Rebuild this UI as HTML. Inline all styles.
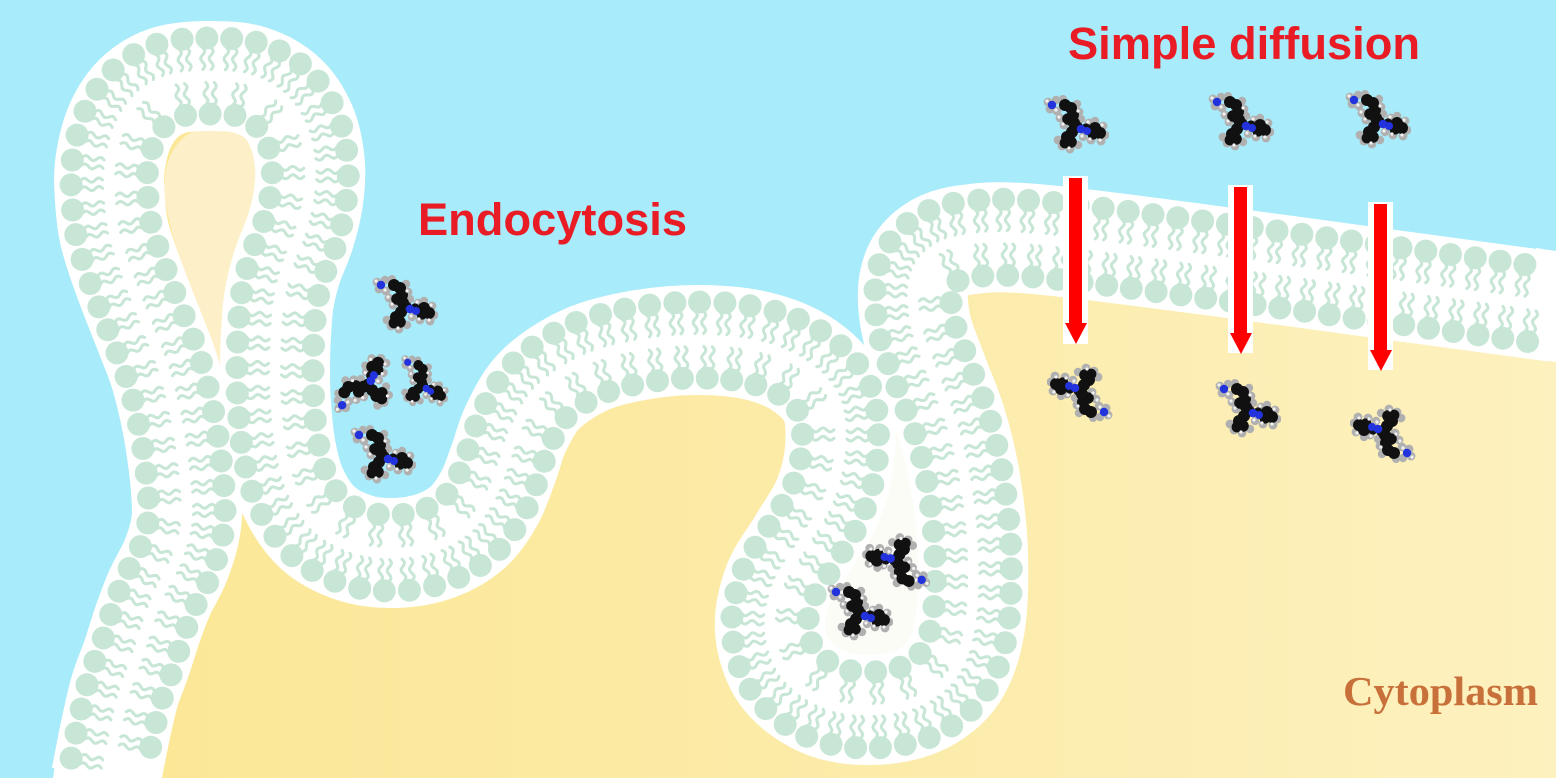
<!DOCTYPE html>
<html>
<head>
<meta charset="utf-8">
<style>
html,body{margin:0;padding:0;background:#a8ebfa;overflow:hidden;width:1556px;height:778px;}
svg{display:block;overflow:hidden;}
</style>
</head>
<body>
<svg id="s" xmlns="http://www.w3.org/2000/svg" width="1556" height="778" viewBox="0 0 1556 778">
<defs>
  <linearGradient id="yg" x1="150" y1="0" x2="1556" y2="0" gradientUnits="userSpaceOnUse">
    <stop offset="0" stop-color="#fbe796"/>
    <stop offset="0.55" stop-color="#fcecab"/>
    <stop offset="1" stop-color="#fdf1bf"/>
  </linearGradient>
  <symbol id="mol" viewBox="0 0 66 60">
    <g fill="#b0b0b0">
      <circle cx="5" cy="7" r="4.4"/><circle cx="7" cy="14" r="4.4"/><circle cx="13" cy="5" r="4.2"/>
      <circle cx="14" cy="16" r="4.4"/><circle cx="20" cy="4" r="4"/><circle cx="34" cy="9" r="4.2"/>
      <circle cx="36" cy="17" r="4.4"/><circle cx="17" cy="23" r="4.4"/><circle cx="21" cy="30" r="4.4"/>
      <circle cx="38" cy="24" r="4.2"/><circle cx="46" cy="28" r="4.4"/><circle cx="52" cy="26" r="4.2"/>
      <circle cx="60" cy="31" r="4.4"/><circle cx="62" cy="40" r="4.4"/><circle cx="58" cy="46" r="4.4"/>
      <circle cx="48" cy="45" r="4.4"/><circle cx="40" cy="42" r="4.2"/><circle cx="19" cy="51" r="4.4"/>
      <circle cx="27" cy="54" r="4.4"/><circle cx="35" cy="50" r="4.2"/><circle cx="15" cy="45" r="4.4"/>
    </g>
    <g fill="#111">
      <circle cx="22" cy="10" r="6"/><circle cx="28" cy="13" r="6"/><circle cx="30" cy="20" r="6"/>
      <circle cx="25" cy="24" r="5.8"/><circle cx="31" cy="28" r="6"/><circle cx="34" cy="32" r="5.8"/>
      <circle cx="29" cy="37" r="6"/><circle cx="24" cy="42" r="6"/><circle cx="28" cy="47" r="5.8"/>
      <circle cx="52" cy="33" r="6"/><circle cx="57" cy="38" r="6"/><circle cx="50" cy="39" r="5.6"/>
      <circle cx="22" cy="48" r="5.4"/><circle cx="43" cy="33" r="4.6"/>
    </g>
    <g fill="#2233dd">
      <circle cx="9" cy="10" r="4.2"/><circle cx="38" cy="34" r="4.3"/><circle cx="44" cy="36" r="4"/>
    </g>
    <g fill="#f2f2f2">
      <circle cx="4" cy="6" r="1.6"/><circle cx="13" cy="15" r="1.6"/><circle cx="35" cy="16" r="1.6"/>
      <circle cx="20" cy="29" r="1.6"/><circle cx="45" cy="27" r="1.6"/><circle cx="59" cy="30" r="1.6"/>
      <circle cx="57" cy="45" r="1.6"/><circle cx="26" cy="53" r="1.6"/><circle cx="39" cy="41" r="1.6"/>
      <circle cx="16" cy="22" r="1.6"/><circle cx="47" cy="44" r="1.6"/>
    </g>
  </symbol>
</defs>

<rect x="0" y="0" width="1556" height="778" fill="#a8ebfa"/>

<path id="cyto" fill="url(#yg)" d="M106,778 L110,757 L117,723 L125,690 L137,657 L148,623 L160,592 L176,560 L186,525 L186,490 L180,440 L172,400 L163,367 L150,333 L137,300 L124,265 L114,232 L110,200 L110,165 L120,126 L140,97 L170,80 L210,76 L250,80 L282,98 L302,128 L310,165 L308,200 L300,233 L287,267 L279,300 L276,335 L275,370 L276,405 L281,450 L293,492 L318,528 L355,548 L395,553 L435,546 L468,527 L490,497 L504,462 L516,428 L540,390 L585,360 L640,345 L700,340 L758,346 L805,366 L835,400 L840,450 L828,500 L802,545 L778,585 L770,630 L785,673 L823,702 L870,710 L918,701 L953,673 L970,625 L973,555 L966,485 L952,425 L932,372 L916,325 L914,282 L930,254 L965,240 L1035,239 L1200,259 L1400,286 L1556,307 L1556,778 L106,778 Z"/>

<path id="tear" fill="#fdf0c8" d="M220,370 C202,320 176,260 166,205 C158,155 183,127 213,127 C245,127 262,152 258,192 C254,240 233,300 220,370 Z"/>

<path id="lumen" fill="#fcfcf7" d="M858,345 C880,360 905,390 918,440 C930,500 928,600 910,650 C890,672 840,670 822,645 C808,600 818,520 838,460 C848,420 850,380 858,345 Z"/>

<path id="band" fill="none" stroke="#ffffff" stroke-width="110" stroke-linejoin="round" stroke-linecap="butt" d="M106,778 L110,757 L117,723 L125,690 L137,657 L148,623 L160,592 L176,560 L186,525 L186,490 L180,440 L172,400 L163,367 L150,333 L137,300 L124,265 L114,232 L110,200 L110,165 L120,126 L140,97 L170,80 L210,76 L250,80 L282,98 L302,128 L310,165 L308,200 L300,233 L287,267 L279,300 L276,335 L275,370 L276,405 L281,450 L293,492 L318,528 L355,548 L395,553 L435,546 L468,527 L490,497 L504,462 L516,428 L540,390 L585,360 L640,345 L700,340 L758,346 L805,366 L835,400 L840,450 L828,500 L802,545 L778,585 L770,630 L785,673 L823,702 L870,710 L918,701 L953,673 L970,625 L973,555 L966,485 L952,425 L932,372 L916,325 L914,282 L930,254 L965,240 L1035,239 L1200,259 L1400,286 L1556,307"/>
<polygon points="56,756 164,756 162,778 53,778" fill="#ffffff"/>
<polygon points="1536,248 1556,251 1556,362 1536,359" fill="#ffffff"/>

<g id="tails" fill="none" stroke="#c7e6d5" stroke-width="3" stroke-linecap="round" stroke-linejoin="round"></g>
<g id="heads" fill="#c7e6d5"></g>

<!-- molecules: endocytosis -->
<use href="#mol" width="66" height="60" transform="translate(405,305) rotate(0) translate(-33,-30)"/>
<use href="#mol" width="66" height="60" transform="translate(366,385) rotate(-80) translate(-33,-30)"/>
<use href="#mol" width="66" height="60" transform="translate(423,384) rotate(15) scale(0.85) translate(-33,-30)"/>
<use href="#mol" width="66" height="60" transform="translate(383,455) rotate(0) translate(-33,-30)"/>
<!-- molecules: vesicle -->
<use href="#mol" width="66" height="60" transform="translate(896,562) rotate(175) translate(-33,-30)"/>
<use href="#mol" width="66" height="60" transform="translate(860,612) rotate(0) translate(-33,-30)"/>
<!-- molecules: diffusion top -->
<use href="#mol" width="66" height="60" transform="translate(1076,125) translate(-33,-30)"/>
<use href="#mol" width="66" height="60" transform="translate(1241,122) translate(-33,-30)"/>
<use href="#mol" width="66" height="60" transform="translate(1378,120) translate(-33,-30)"/>
<!-- molecules: diffusion bottom -->
<use href="#mol" width="66" height="60" transform="translate(1080,392) rotate(180) translate(-33,-30)"/>
<use href="#mol" width="66" height="60" transform="translate(1248,409) rotate(0) translate(-33,-30)"/>
<use href="#mol" width="66" height="60" transform="translate(1383,433) rotate(180) translate(-33,-30)"/>

<!-- arrows -->
<rect x="1063" y="176" width="25" height="168" fill="#ffffff"/>
<rect x="1069" y="178" width="13" height="146" fill="#ff0000"/>
<polygon points="1065,323 1087,323 1076,344" fill="#ff0000"/>

<rect x="1228" y="185" width="25" height="168" fill="#ffffff"/>
<rect x="1234" y="187" width="13" height="147" fill="#ff0000"/>
<polygon points="1230,333 1252,333 1241,354" fill="#ff0000"/>

<rect x="1368" y="202" width="25" height="168" fill="#ffffff"/>
<rect x="1374" y="204" width="13" height="147" fill="#ff0000"/>
<polygon points="1370,350 1392,350 1381,371" fill="#ff0000"/>

<!-- labels -->
<text x="418" y="235" font-family="'Liberation Sans', Arial, sans-serif" font-weight="bold" font-size="45" fill="#e91c26" textLength="269" lengthAdjust="spacingAndGlyphs">Endocytosis</text>
<text x="1068" y="59" font-family="'Liberation Sans', Arial, sans-serif" font-weight="bold" font-size="45" fill="#e91c26" textLength="352" lengthAdjust="spacingAndGlyphs">Simple diffusion</text>
<text x="1343" y="705" font-family="'Liberation Serif', 'Times New Roman', serif" font-weight="bold" font-size="41" fill="#c8703a" textLength="195" lengthAdjust="spacingAndGlyphs">Cytoplasm</text>
</svg>

<script>
(function(){
var P=[[106,778],[110,757],[117,723],[125,690],[137,657],[148,623],[160,592],[176,560],[186,525],[186,490],[180,440],[172,400],[163,367],[150,333],[137,300],[124,265],[114,232],[110,200],[110,165],[120,126],[140,97],[170,80],[210,76],[250,80],[282,98],[302,128],[310,165],[308,200],[300,233],[287,267],[279,300],[276,335],[275,370],[276,405],[281,450],[293,492],[318,528],[355,548],[395,553],[435,546],[468,527],[490,497],[504,462],[516,428],[540,390],[585,360],[640,345],[700,340],[758,346],[805,366],[835,400],[840,450],[828,500],[802,545],[778,585],[770,630],[785,673],[823,702],[870,710],[918,701],[953,673],[970,625],[973,555],[966,485],[952,425],[932,372],[916,325],[914,282],[930,254],[965,240],[1035,239],[1200,259],[1400,286],[1556,307]];
function cr(P){
  var d='M'+P[0][0]+','+P[0][1];
  for(var i=0;i<P.length-1;i++){
    var p0=P[i>0?i-1:0],p1=P[i],p2=P[i+1],p3=P[i+2<P.length?i+2:i+1];
    var c1x=p1[0]+(p2[0]-p0[0])/6,c1y=p1[1]+(p2[1]-p0[1])/6;
    var c2x=p2[0]-(p3[0]-p1[0])/6,c2y=p2[1]-(p3[1]-p1[1])/6;
    d+=' C'+c1x.toFixed(1)+','+c1y.toFixed(1)+' '+c2x.toFixed(1)+','+c2y.toFixed(1)+' '+p2[0]+','+p2[1];
  }
  return d;
}
try{
var d=cr(P);
var band=document.getElementById('band');
band.setAttribute('d',d);
document.getElementById('cyto').setAttribute('d',d+' L1556,778 L106,778 Z');
var L=band.getTotalLength();
var S=[];
for(var s=0;s<=L;s+=1){var p=band.getPointAtLength(s);S.push([p.x,p.y]);}
var N=S.length,k=5;
var R=38,r=11.5,sp=24.5;
var heads=[];
var NS='http://www.w3.org/2000/svg';
var gh=document.getElementById('heads'),gt=document.getElementById('tails');
var hfrag=document.createDocumentFragment(),tfrag=document.createDocumentFragment();
function inside(x,y,m){return x>=m&&x<=1556-m&&y>=m&&y<=778-m;}
[1,-1].forEach(function(side){
  var acc=sp*0.5,prev=null;
  for(var i=0;i<N;i++){
    var a=S[Math.max(0,i-k)],b=S[Math.min(N-1,i+k)];
    var tx=b[0]-a[0],ty=b[1]-a[1],tl=Math.sqrt(tx*tx+ty*ty)||1;tx/=tl;ty/=tl;
    var nx=-ty,ny=tx;
    var qx=S[i][0]+side*R*nx,qy=S[i][1]+side*R*ny;
    if(prev){acc+=Math.sqrt((qx-prev[0])*(qx-prev[0])+(qy-prev[1])*(qy-prev[1]));}
    prev=[qx,qy];
    if(acc>=sp){
      acc=0;
      if(!inside(qx,qy,r))continue;
      var ok=true;
      for(var j=0;j<heads.length;j++){var dx=heads[j][0]-qx,dy=heads[j][1]-qy;if(dx*dx+dy*dy<17*17){ok=false;break;}}
      if(!ok)continue;
      var ux=-side*nx,uy=-side*ny;
      var tailsPts=[],tok=true;
      for(var m=-1;m<=1;m+=2){
        var pts=[];
        for(var t=0;t<=22;t+=2){
          var w=2.1*Math.sin(t/22*3*Math.PI);
          var along=r-2+t;var off=m*4.2+w;
          var px=qx+ux*along+tx*off,py=qy+uy*along+ty*off;
          if(!inside(px,py,2))tok=false;
          pts.push(px.toFixed(1)+','+py.toFixed(1));
        }
        tailsPts.push(pts);
      }
      heads.push([qx,qy]);
      var c=document.createElementNS(NS,'circle');
      c.setAttribute('cx',qx.toFixed(1));c.setAttribute('cy',qy.toFixed(1));c.setAttribute('r',r);
      hfrag.appendChild(c);
      if(tok){
        for(var q=0;q<2;q++){
          var pl=document.createElementNS(NS,'polyline');
          pl.setAttribute('points',tailsPts[q].join(' '));
          tfrag.appendChild(pl);
        }
      }
    }
  }
});
gh.appendChild(hfrag);gt.appendChild(tfrag);
}catch(e){}
})();
</script>
</body>
</html>
